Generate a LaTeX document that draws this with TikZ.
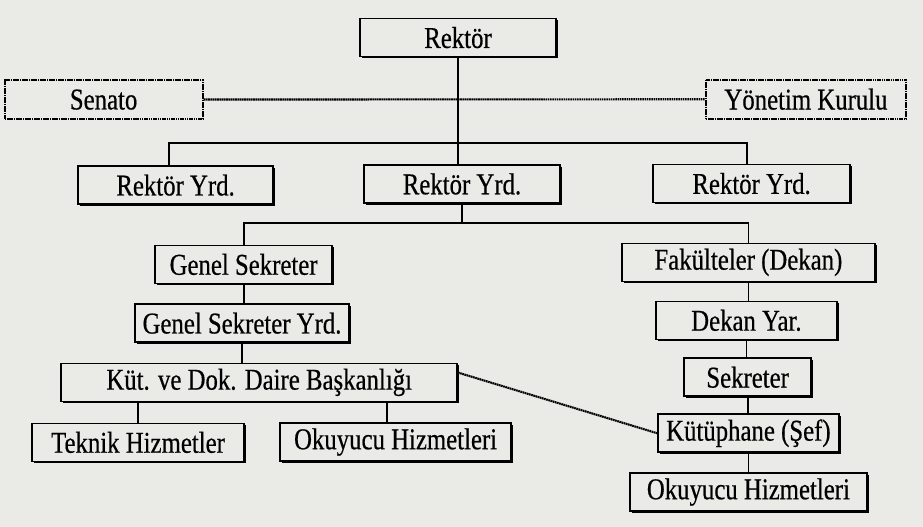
\documentclass[tikz,border=0pt]{standalone}
\usepackage{fontspec}
\setmainfont{Liberation Serif}
\newfontfamily\chartfont[FakeStretch=0.82, FakeBold=0.5]{Liberation Serif}
\usetikzlibrary{shadows}

\definecolor{paper}{RGB}{234,234,231}

\begin{document}
\begin{tikzpicture}[
        unit/.style={draw, line width=1.1pt, fill=paper, minimum height=0.95cm,
            inner sep=0pt, font=\chartfont\fontsize{21.5}{23}\selectfont,
            drop shadow={shadow xshift=1.3pt, shadow yshift=-1.3pt, fill=black, opacity=1}},
        board/.style={draw, line width=1.5pt, dash pattern=on 1.2pt off 0.4pt, fill=paper,
            minimum height=0.98cm, inner sep=0pt, font=\chartfont\fontsize{21.5}{23}\selectfont},
        link/.style={line width=1.3pt},
        weak/.style={line width=1.5pt, dash pattern=on 1.2pt off 0.4pt}
    ]
            \fill[paper] (0, 0) rectangle (23.075, -13.175);
            \useasboundingbox (0, 0) rectangle (23.075, -13.175);

            \path (4.225, -3.575) coordinate (b1l);
            \path (18.675, -3.575) coordinate (b1r);
            \path (0, -5.575) coordinate (b2);
            \path (9.675, 0) coordinate (d2);

            \node[unit, minimum width=4.9cm] (rektor) at (11.45, -0.94) {Rektör};

            \node[board, minimum width=4.95cm] (senato) at (2.59, -2.49) {Senato};
            \node[board, minimum width=5.02cm] (yonetim) at (20.15, -2.48) {Yönetim Kurulu};

            \node[unit, minimum width=4.88cm] (yrdA) at (4.39, -4.63) {Rektör Yrd.};
            \node[unit, minimum width=4.9cm] (yrdB) at (11.55, -4.6) {Rektör Yrd.};
            \node[unit, minimum width=4.93cm] (yrdC) at (18.79, -4.59) {Rektör Yrd.};

            \node[unit, minimum width=4.43cm] (genel) at (6.09, -6.61) {Genel Sekreter};
            \node[unit, minimum width=5.35cm] (genelyrd) at (6.05, -8.08) {Genel Sekreter Yrd.};
            \node[unit, minimum width=9.9cm] (kutdok) at (6.48, -9.56) {Küt. ve Dok. Daire Başkanlığı};
            \node[unit, minimum width=5.3cm] (teknik) at (3.45, -11.06) {Teknik Hizmetler};
            \node[unit, minimum width=5.78cm] (okuyucuA) at (9.89, -11.05) {Okuyucu Hizmetleri};

            \node[unit, minimum width=6.33cm] (fakulte) at (18.71, -6.56) {Fakülteler (Dekan)};
            \node[unit, minimum width=4.53cm] (dekanyar) at (18.66, -8.01) {Dekan Yar.};
            \node[unit, minimum width=3.18cm] (sekreter) at (18.69, -9.43) {Sekreter};
            \node[unit, minimum width=4.53cm] (kutuphane) at (18.71, -10.83) {Kütüphane (Şef)};
            \node[unit, minimum width=5.93cm] (okuyucuB) at (18.71, -12.3) {Okuyucu Hizmetleri};

            % dotted advisory links
            \draw[weak] (senato) -- (yonetim);
            \draw[weak] ([yshift=7pt]kutdok.east) -- (kutuphane.west);

            % rector and deputies
            \draw[link] (rektor.south) -- (rektor.south |- b1l);
            \draw[link] (b1l |- yrdA.north) -- (b1l) -- (b1r) -- (b1r |- yrdC.north);
            \draw[link] (rektor.south |- b1l) -- (rektor.south |- yrdB.north);

            \draw[link] (yrdB.south) -- (yrdB.south |- b2);
            \draw[link] (genel.north) |- (fakulte.north |- b2) -- (fakulte.north);

            % left branch
            \draw[link] (genel.south) -- (genel.south |- genelyrd.north);
            \draw[link] (genelyrd.south) -- (genelyrd.south |- kutdok.north);
            \draw[link] (teknik.north |- kutdok.south) -- (teknik.north);
            \draw[link] (d2 |- kutdok.south) -- (d2 |- okuyucuA.north);

            % right branch
            \draw[link] (fakulte.south) -- (fakulte.south |- dekanyar.north);
            \draw[link] (dekanyar.south) -- (dekanyar.south |- sekreter.north);
            \draw[link] (sekreter.south) -- (sekreter.south |- kutuphane.north);
            \draw[link] (kutuphane.south) -- (kutuphane.south |- okuyucuB.north);
        \end{tikzpicture}
\end{document}
